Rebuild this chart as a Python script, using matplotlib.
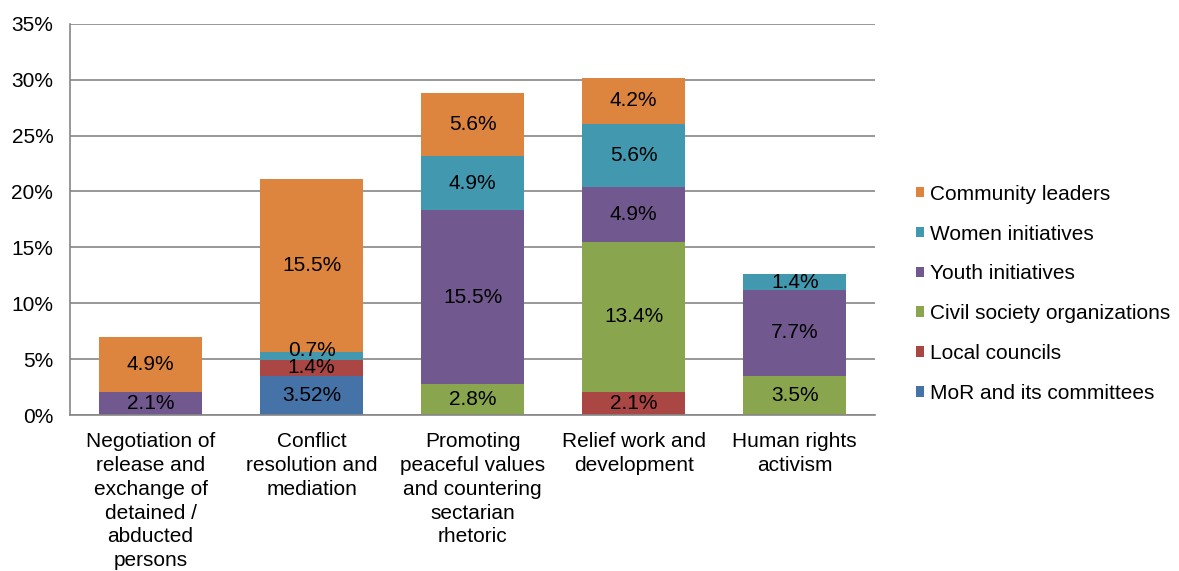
import numpy as np
import matplotlib
matplotlib.use('Agg')
import matplotlib.pyplot as plt

plt.rcParams['font.family'] = ['Liberation Sans', 'DejaVu Sans']

# Categorias
categorias = ['Negotiation of\nrelease and\nexchange of\ndetained /\nabducted\npersons',
              'Conflict\nresolution and\nmediation',
              'Promoting\npeaceful values\nand countering\nsectarian\nrhetoric',
              'Relief work and\ndevelopment',
              'Human rights\nactivism']

# Series (valores em %), de baixo para cima
series = ['MoR and its committees', 'Local councils', 'Civil society organizations',
          'Youth initiatives', 'Women initiatives', 'Community leaders']
mor = [0, 3.52, 0, 0, 0]
local = [0, 1.4, 0, 2.1, 0]
civil = [0, 0, 2.8, 13.4, 3.5]
youth = [2.1, 0, 15.5, 4.9, 7.7]
women = [0, 0.7, 4.9, 5.6, 1.4]
community = [4.9, 15.5, 5.6, 4.2, 0]

cores = ['#4572A7', '#AA4643', '#89A54E', '#71588F', '#4198AF', '#DD843E']

fig = plt.figure(figsize=(11.79, 5.71), dpi=100)
ax = fig.add_axes([0.0594, 0.2732, 0.683, 0.685])

x = np.arange(len(categorias))
base = np.zeros(len(categorias))
for nome, vals, cor in zip(series, [mor, local, civil, youth, women, community], cores):
    vals = np.array(vals)
    ax.bar(x, vals, 0.64, bottom=base, color=cor, label=nome, zorder=2)
    for xi, b, v in zip(x, base, vals):
        if v > 0:
            # segmentos muito finos: rotulo um pouco acima
            dy = 4 if v < 1 else 0
            ax.annotate(f'{v:g}%', (xi, b + v / 2), xytext=(0, dy),
                        textcoords='offset points', ha='center', va='center',
                        fontsize=15, color='black', zorder=3)
    base = base + vals

ax.set_xlim(-0.5, len(categorias) - 0.5)
ax.set_ylim(0, 35)
ax.set_yticks(np.arange(0, 36, 5))
ax.set_yticklabels([f'{t}%' for t in range(0, 36, 5)], fontsize=15)
ax.set_xticks(x)
ax.set_xticklabels(categorias, fontsize=15, linespacing=1.33)
ax.tick_params(axis='y', length=0, pad=12)
ax.tick_params(axis='x', length=0, pad=12)
ax.yaxis.grid(True, color='#868686', linewidth=1.2, zorder=0)
ax.set_axisbelow(True)
for s in ['top', 'right']:
    ax.spines[s].set_visible(False)
for s in ['left', 'bottom']:
    ax.spines[s].set_color('#868686')
    ax.spines[s].set_linewidth(1.2)

handles, labels = ax.get_legend_handles_labels()
ax.legend(handles[::-1], labels[::-1], loc='center left', bbox_to_anchor=(1.04, 0.31),
          frameon=False, fontsize=15, handlelength=0.4, handleheight=0.4,
          handletextpad=0.3, labelspacing=1.0, borderaxespad=0)

fig.savefig('out.png', dpi=100)
